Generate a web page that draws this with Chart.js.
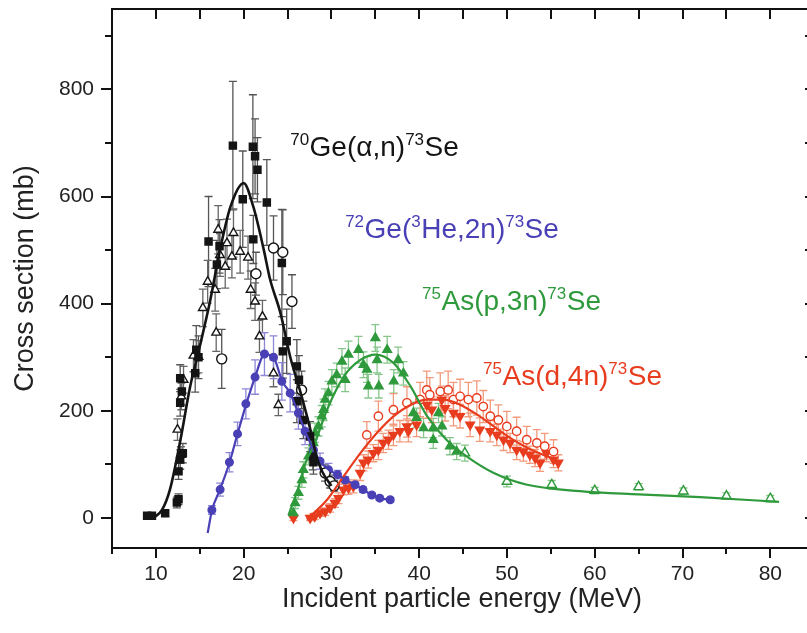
<!DOCTYPE html>
<html>
<head>
<meta charset="utf-8">
<script src="https://cdn.jsdelivr.net/npm/chart.js@4.4.0/dist/chart.umd.min.js"></script>
<style>
  html, body { margin: 0; padding: 0; background: #fff; overflow: hidden; }
  #xsChart { display: block; }
</style>
</head>
<body>
<canvas id="xsChart" width="820" height="633" style="width:820px;height:633px"></canvas>
<script>
// each point: [energy (MeV), cross section (mb), error (mb)]
const geAlphaSquares = [
  [9.0, 4, 5], [9.55, 4, 5], [11.06, 9, 6], [12.39, 29, 10], [12.58, 35, 10], [12.58, 87, 15],
  [12.77, 109, 18], [13.07, 121, 18], [12.77, 215, 25], [12.96, 236, 25], [12.77, 261, 25],
  [14.48, 270, 35], [14.85, 300, 40], [14.6, 314, 45], [16.0, 516, 84], [16.95, 473, 45],
  [17.25, 507, 50], [18.77, 695, 120], [19.9, 595, 90], [21.05, 693, 97], [21.3, 675, 70],
  [21.57, 650, 60], [21.1, 520, 45], [22.64, 589, 80], [24.35, 476, 100], [24.46, 311, 50],
  [24.9, 330, 60], [26.06, 283, 50], [26.3, 258, 45], [26.06, 218, 40], [26.8, 183, 35],
  [27.57, 152, 28], [27.88, 115, 25], [27.95, 104, 22]
];
const geAlphaTriangles = [
  [12.46, 165, 20], [12.85, 118, 15], [12.9, 227, 25], [13.15, 258, 25], [14.28, 303, 30],
  [14.85, 301, 30], [15.35, 392, 35], [15.9, 441, 40], [16.75, 426, 40], [16.87, 346, 35],
  [17.1, 538, 45], [17.3, 491, 40], [17.9, 469, 40], [18.1, 513, 45], [18.66, 488, 40],
  [18.84, 532, 45], [19.6, 497, 40], [20.5, 486, 40], [20.8, 426, 35], [21.3, 404, 35],
  [21.8, 339, 30], [22.14, 376, 30], [23.4, 270, 25], [23.96, 211, 20]
];
const geAlphaCircles = [
  [17.5, 297, 55], [21.4, 456, 40], [23.4, 504, 60], [24.46, 496, 79], [25.5, 404, 50],
  [26.6, 239, 35], [29.28, 84, 15], [29.85, 68, 12], [30.3, 60, 10]
];
const geAlphaFit = [
  [9.7, 0], [10.7, 15], [11.6, 53], [12.8, 146], [13.9, 245], [15.0, 320], [16.2, 407],
  [17.3, 500], [18.5, 581], [20.0, 625], [21.1, 581], [22.3, 500], [23.0, 446], [24.2, 382],
  [25.3, 301], [26.4, 239], [27.6, 165], [28.3, 115], [29.0, 85], [30.0, 60]
];

const ge3HeCircles = [
  [16.38, 15, 8], [17.32, 53, 12], [18.38, 104, 18], [19.3, 157, 22], [20.25, 213, 28],
  [21.3, 263, 32], [22.37, 306, 40], [23.4, 300, 40], [24.35, 255, 35], [25.3, 233, 35],
  [26.24, 196, 30], [27.0, 162, 25], [27.95, 127, 20], [28.7, 106, 15], [29.66, 90, 12],
  [30.7, 81, 8], [31.56, 71, 6], [32.7, 62, 5], [33.6, 53, 5], [34.6, 43, 4], [35.5, 37, 4],
  [36.7, 34, 4]
];
const ge3HeFit = [
  [15.9, -28], [16.4, 15], [17.3, 53], [18.4, 104], [19.3, 157], [20.3, 213], [21.3, 263],
  [22.4, 306], [23.4, 300], [24.4, 255], [25.3, 233], [26.2, 196], [27.0, 162], [28.0, 127],
  [28.7, 106], [29.7, 90], [30.7, 81], [31.6, 71], [32.7, 62], [33.6, 53], [34.6, 43],
  [35.5, 37], [36.7, 34]
];

const asPTriangles = [
  [25.67, 9, 8], [25.86, 28, 10], [26.24, 47, 12], [26.63, 71, 14], [26.8, 90, 15],
  [27.38, 115, 16], [27.95, 140, 18], [28.14, 159, 18], [28.52, 171, 18], [28.9, 190, 20],
  [29.1, 202, 20], [29.28, 221, 20], [29.66, 233, 22], [30.05, 255, 22], [30.6, 267, 22],
  [31.2, 292, 24], [31.56, 258, 22], [31.94, 305, 25], [33.08, 314, 25], [33.65, 286, 24],
  [34.05, 277, 24], [34.2, 246, 22], [35.0, 336, 25], [35.2, 295, 24], [35.4, 246, 22],
  [36.35, 314, 25], [37.1, 255, 22], [37.6, 295, 24], [38.2, 270, 22], [39.34, 196, 20],
  [39.7, 187, 18], [40.5, 168, 18], [41.6, 168, 18], [42.2, 196, 18], [42.6, 171, 18],
  [41.6, 146, 16], [43.5, 134, 16], [44.27, 124, 15]
];
const asPOpen = [
  [45.2, 121, 15], [50.0, 68, 10], [55.1, 62, 8], [60.0, 51, 6], [65.0, 58, 6],
  [70.1, 50, 6], [75.0, 41, 6], [80.0, 36, 6]
];
const asPFit = [
  [25.1, 5], [26.2, 55], [27.1, 105], [28.0, 135], [29.5, 202], [31.4, 264], [33.3, 295],
  [35.0, 305], [37.1, 289], [39.0, 246], [40.9, 190], [43.1, 146], [45.4, 115], [48.5, 84],
  [52.3, 62], [58.3, 50], [65.0, 44], [72.0, 39], [81.0, 30]
];

const asDFilled = [
  [25.67, 0, 5], [27.57, 0, 5], [28.1, 3, 6], [28.7, 9, 6], [29.3, 12, 7], [29.85, 19, 8],
  [30.4, 28, 8], [30.8, 37, 10], [31.37, 53, 10], [31.94, 56, 12], [32.5, 59, 12],
  [33.27, 84, 14], [33.65, 103, 15], [34.2, 109, 16], [34.78, 121, 16], [35.35, 127, 18],
  [35.9, 140, 18], [36.5, 146, 18], [37.06, 155, 20], [37.8, 162, 20], [38.6, 171, 20],
  [38.77, 162, 20], [39.7, 174, 22], [40.86, 211, 25], [41.43, 202, 24], [42.57, 221, 25],
  [42.95, 205, 24], [43.9, 196, 24], [44.66, 190, 22], [45.8, 174, 22], [46.9, 165, 22],
  [48.08, 162, 20], [48.84, 155, 20], [49.6, 146, 20], [50.35, 140, 18], [51.1, 127, 18],
  [51.87, 124, 18], [52.6, 118, 16], [53.2, 112, 16], [53.77, 103, 16], [54.5, 121, 16],
  [55.3, 109, 15], [55.85, 103, 15]
];
const asDOpen = [
  [34.03, 155, 25], [35.35, 190, 28], [37.06, 202, 30], [38.6, 215, 30], [40.1, 221, 32],
  [40.86, 239, 35], [41.2, 230, 32], [42.4, 236, 35], [43.3, 239, 35], [43.9, 221, 32],
  [44.66, 227, 32], [45.6, 221, 32], [46.56, 224, 32], [47.3, 208, 30], [48.1, 190, 30],
  [49.02, 183, 28], [49.98, 171, 28], [51.1, 162, 26], [52.25, 146, 25], [53.4, 140, 25],
  [54.3, 134, 24], [55.3, 124, 22]
];
const asDFit = [
  [27.2, -3], [29.5, 34], [31.4, 78], [33.3, 121], [35.2, 159], [37.1, 190], [39.0, 211],
  [40.9, 221], [42.8, 221], [44.7, 211], [46.6, 193], [48.5, 171], [50.4, 149], [52.3, 131],
  [54.1, 118], [55.7, 109]
];

const xTicks = [10, 20, 30, 40, 50, 60, 70, 80];
const xMinorTicks = [5, 15, 25, 35, 45, 55, 65, 75];
const yTicks = [0, 200, 400, 600, 800];
const yMinorTicks = [100, 300, 500, 700, 900];

const BLACK = '#141414', BLUE = '#4a40b6', GREEN = '#2f9a3c', RED = '#e83c1e';
const FONT = '"Liberation Sans", Arial, sans-serif';

const pts = arr => arr.map(p => ({ x: p[0], y: p[1] }));
const errs = arr => arr.map(p => p[2]);

const markers = (arr, opts) => Object.assign({
  data: pts(arr), errors: errs(arr), showLine: false, pointBorderWidth: 1.4, order: 2
}, opts);
const fitLine = (arr, color, width) => ({
  data: pts(arr), showLine: true, pointRadius: 0, borderColor: color, borderWidth: width,
  cubicInterpolationMode: 'monotone', order: 1
});

const datasets = [
  fitLine(geAlphaFit, BLACK, 2.6),
  fitLine(ge3HeFit, BLUE, 2.2),
  fitLine(asPFit, GREEN, 2.2),
  fitLine(asDFit, RED, 2.2),
  markers(geAlphaSquares, { pointStyle: 'rect', pointRadius: 5, backgroundColor: BLACK, borderColor: BLACK, errorColor: '#555' }),
  markers(geAlphaTriangles, { pointStyle: 'triangle', pointRadius: 5, backgroundColor: '#fff', borderColor: BLACK, errorColor: '#666' }),
  markers(geAlphaCircles, { pointStyle: 'circle', pointRadius: 5, backgroundColor: '#fff', borderColor: BLACK, errorColor: '#555' }),
  markers(ge3HeCircles, { pointStyle: 'circle', pointRadius: 3.8, backgroundColor: BLUE, borderColor: BLUE, errorColor: '#8d87d8' }),
  markers(asPTriangles, { pointStyle: 'triangle', pointRadius: 5, backgroundColor: GREEN, borderColor: GREEN, errorColor: '#86c68a' }),
  markers(asPOpen, { pointStyle: 'triangle', pointRadius: 5.5, backgroundColor: '#fff', borderColor: GREEN, errorColor: '#86c68a' }),
  markers(asDOpen, { pointStyle: 'circle', pointRadius: 4.2, backgroundColor: '#fff', borderColor: RED, errorColor: '#f39a7c' }),
  markers(asDFilled, { pointStyle: 'triangle', rotation: 180, pointRadius: 5, backgroundColor: RED, borderColor: RED, errorColor: '#f39a7c' })
];

// reaction labels: [text, isSuperscript]
const reactionLabels = [
  { x: 25.3, y: 676, color: BLACK, parts: [['70', 1], ['Ge(α,n)', 0], ['73', 1], ['Se', 0]] },
  { x: 31.56, y: 523, color: BLUE, parts: [['72', 1], ['Ge(', 0], ['3', 1], ['He,2n)', 0], ['73', 1], ['Se', 0]] },
  { x: 40.33, y: 389, color: GREEN, parts: [['75', 1], ['As(p,3n)', 0], ['73', 1], ['Se', 0]] },
  { x: 47.28, y: 249, color: RED, parts: [['75', 1], ['As(d,4n)', 0], ['73', 1], ['Se', 0]] }
];

const errorBars = {
  id: 'errorBars',
  beforeDatasetsDraw(chart) {
    const { ctx, scales: { x, y } } = chart;
    ctx.save();
    ctx.lineWidth = 1.3;
    chart.data.datasets.forEach(ds => {
      if (!ds.errors) return;
      ctx.strokeStyle = ds.errorColor;
      ctx.beginPath();
      ds.data.forEach((p, i) => {
        const e = ds.errors[i];
        if (!e) return;
        const px = x.getPixelForValue(p.x);
        const top = y.getPixelForValue(p.y + e);
        const bot = y.getPixelForValue(p.y - e);
        ctx.moveTo(px, top); ctx.lineTo(px, bot);
        ctx.moveTo(px - 4, top); ctx.lineTo(px + 4, top);
        ctx.moveTo(px - 4, bot); ctx.lineTo(px + 4, bot);
      });
      ctx.stroke();
    });
    ctx.restore();
  }
};

// Origin-style frame: outward ticks bottom/left, inward ticks top/right
const frame = {
  id: 'frame',
  afterDraw(chart) {
    const { ctx, chartArea: a, scales: { x, y } } = chart;
    ctx.save();
    ctx.strokeStyle = '#111';
    ctx.lineWidth = 2;
    ctx.strokeRect(a.left, a.top, a.right - a.left, a.bottom - a.top);
    ctx.beginPath();
    xTicks.concat(xMinorTicks).forEach(v => {
      const p = Math.round(x.getPixelForValue(v));
      const len = xTicks.includes(v) ? 10 : 6;
      ctx.moveTo(p, a.bottom); ctx.lineTo(p, a.bottom + len);
      if (v > 5) { ctx.moveTo(p, a.top); ctx.lineTo(p, a.top + 10); }
    });
    yTicks.concat(yMinorTicks).forEach(v => {
      const p = Math.round(y.getPixelForValue(v));
      const len = yTicks.includes(v) ? 11 : 7;
      ctx.moveTo(a.left, p); ctx.lineTo(a.left - len, p);
      ctx.moveTo(a.right, p); ctx.lineTo(a.right - 7, p);
    });
    ctx.stroke();
    ctx.restore();
  }
};

const labels = {
  id: 'reactionLabels',
  afterDatasetsDraw(chart) {
    const { ctx, scales: { x, y } } = chart;
    ctx.save();
    ctx.textBaseline = 'alphabetic';
    ctx.textAlign = 'left';
    reactionLabels.forEach(l => {
      let px = x.getPixelForValue(l.x);
      const py = y.getPixelForValue(l.y);
      ctx.fillStyle = l.color;
      l.parts.forEach(([t, sup]) => {
        ctx.font = (sup ? '17px ' : '28px ') + FONT;
        ctx.fillText(t, px, sup ? py - 11 : py);
        px += ctx.measureText(t).width + (sup ? 0.5 : 0);
      });
    });
    ctx.restore();
  }
};

new Chart(document.getElementById('xsChart'), {
  type: 'scatter',
  data: { datasets },
  options: {
    responsive: false,
    animation: false,
    layout: { padding: { top: 9, right: 8, left: 0, bottom: 0 } },
    plugins: { legend: { display: false }, tooltip: { enabled: false } },
    scales: {
      x: {
        type: 'linear', min: 5, max: 84.75,
        afterBuildTicks: s => { s.ticks = xTicks.map(v => ({ value: v })); },
        afterFit: s => { s.height = 85; s.paddingLeft = 0; s.paddingRight = 0; },
        grid: { display: false, drawTicks: false },
        border: { display: false },
        ticks: { padding: 14, color: '#222', font: { family: FONT, size: 21 }, maxRotation: 0, autoSkip: false },
        title: { display: true, text: 'Incident particle energy (MeV)', color: '#222', font: { family: FONT, size: 27 }, padding: { top: 0, bottom: 17 } }
      },
      y: {
        type: 'linear', min: -56, max: 950,
        afterBuildTicks: s => { s.ticks = yTicks.map(v => ({ value: v })); },
        afterFit: s => { s.width = 112; s.paddingTop = 0; s.paddingBottom = 0; },
        grid: { display: false, drawTicks: false },
        border: { display: false },
        ticks: { padding: 18, color: '#222', font: { family: FONT, size: 21 }, autoSkip: false },
        title: { display: true, text: 'Cross section (mb)', color: '#222', font: { family: FONT, size: 27 }, padding: { top: 9, bottom: 0 } }
      }
    }
  },
  plugins: [errorBars, frame, labels]
});
</script>
</body>
</html>
